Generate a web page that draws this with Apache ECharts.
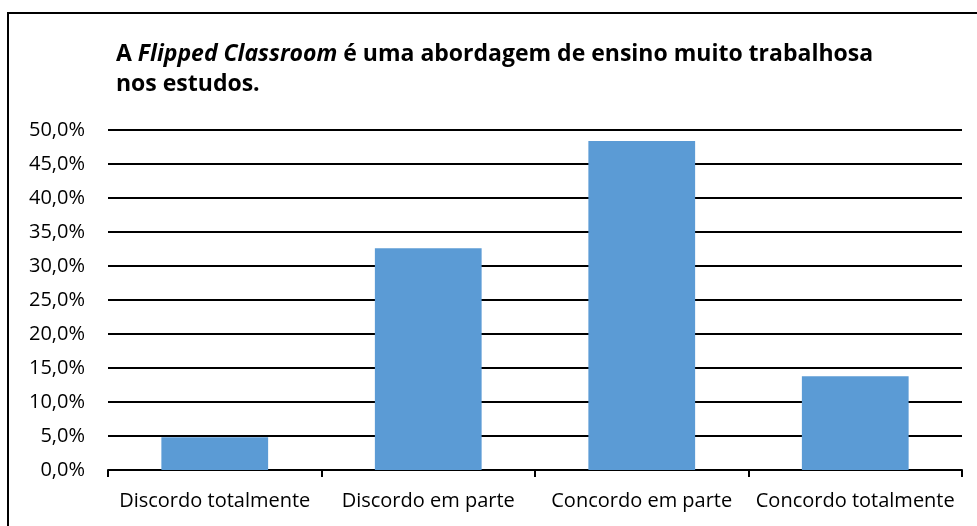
<!DOCTYPE html>
<html>
<head>
<meta charset="utf-8">
<script src="https://cdn.jsdelivr.net/npm/echarts@6/dist/echarts.min.js"></script>
<style>
  html, body { margin: 0; padding: 0; background: #fff; }
  #chart { width: 977px; height: 526px; }
</style>
</head>
<body>
<div id="chart"></div>
<script>
// Survey answers (share of respondents, %)
const categories = ['Discordo totalmente', 'Discordo em parte', 'Concordo em parte', 'Concordo totalmente'];
const shares = [4.8, 32.6, 48.4, 13.8];

const FONT = '"Open Sans", "Noto Sans", sans-serif';

const chart = echarts.init(document.getElementById('chart'), null, { renderer: 'canvas' });

chart.setOption({
  animation: false,
  backgroundColor: '#ffffff',
  graphic: [
    {
      type: 'rect',
      shape: { x: 8, y: 13, width: 1000, height: 600 },
      style: { fill: 'none', stroke: '#000', lineWidth: 2 },
      silent: true
    }
  ],
  title: {
    left: 111,
    top: 34,
    text: 'A {i|Flipped Classroom} é uma abordagem de ensino muito trabalhosa\nnos estudos.',
    textStyle: {
      fontFamily: FONT,
      fontSize: 23,
      fontWeight: 'bold',
      color: '#000',
      lineHeight: 30,
      rich: {
        i: { fontFamily: FONT, fontSize: 23, fontWeight: 'bold', fontStyle: 'italic', color: '#000', lineHeight: 30 }
      }
    }
  },
  grid: { left: 108, right: 15, top: 130, bottom: 56, containLabel: false },
  xAxis: {
    type: 'category',
    data: categories,
    axisLine: { show: true, lineStyle: { color: '#000', width: 2 } },
    axisTick: { show: true, length: 7, lineStyle: { color: '#000', width: 2 } },
    axisLabel: { color: '#000', fontFamily: FONT, fontSize: 20, margin: 21, interval: 0 },
    splitLine: { show: false }
  },
  yAxis: {
    type: 'value',
    min: 0,
    max: 50,
    interval: 5,
    axisLine: { show: false },
    axisTick: { show: false },
    axisLabel: {
      color: '#000', fontFamily: FONT, fontSize: 20, margin: 23,
      formatter: v => v.toFixed(1).replace('.', ',') + '%'
    },
    splitLine: { show: true, lineStyle: { color: '#000', width: 2 } }
  },
  series: [
    {
      type: 'bar',
      data: shares,
      barWidth: '50%',
      itemStyle: { color: '#5B9BD5' }
    }
  ]
});
</script>
</body>
</html>
